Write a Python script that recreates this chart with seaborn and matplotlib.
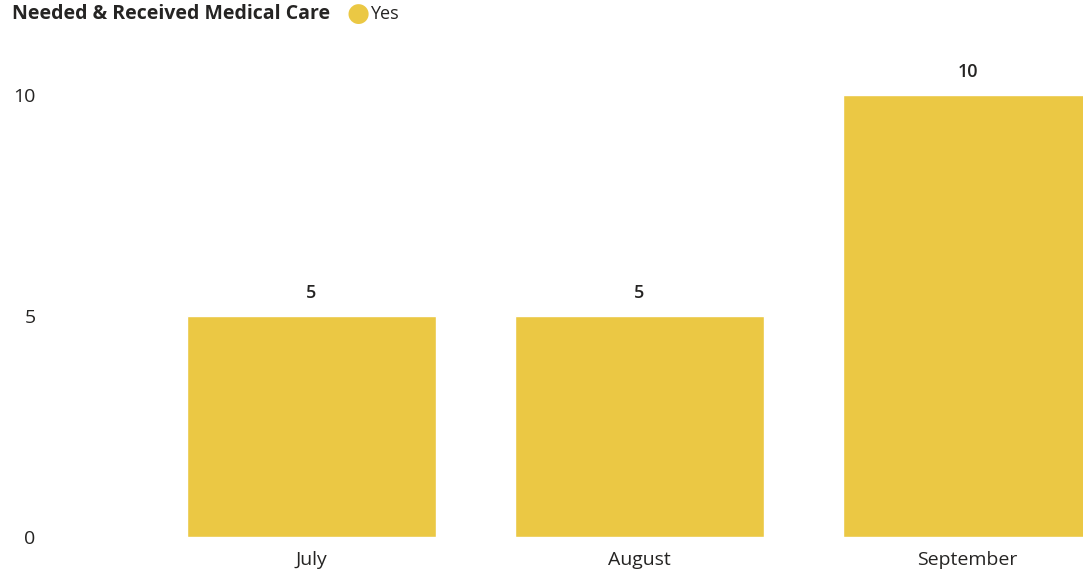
import matplotlib
matplotlib.use("Agg")
import matplotlib.pyplot as plt
import seaborn as sns
import pandas as pd

months = ["July", "August", "September"]
values = [5, 5, 10]
series_name = "Yes"
title = "Needed & Received Medical Care"
bar_color = "#EBC844"

sns.set_theme(style="white")
plt.rcParams['font.family'] = ['Open Sans', 'DejaVu Sans']

df = pd.DataFrame({"Month": months, "Count": values})

W, H = 1083, 577
fig = plt.figure(figsize=(W / 100, H / 100), dpi=100)
left_px, right_px, top_px, bottom_px = 55, 1083, 51, 537
ax = fig.add_axes([left_px / W, 1 - bottom_px / H, (right_px - left_px) / W, (bottom_px - top_px) / H])

sns.barplot(data=df, x="Month", y="Count", color=bar_color, saturation=1, width=0.76, ax=ax)

unit = 328
ax.set_xlim(-(311.5 - left_px) / unit, (right_px - 311.5) / unit)
ax.set_ylim(0, (bottom_px - top_px) / 44.2)
ax.set_yticks([0, 5, 10])
ax.set_xlabel("")
ax.set_ylabel("")
for s in ax.spines.values():
    s.set_visible(False)
ax.tick_params(axis="both", length=0, labelsize=14, colors="#252423")
ax.tick_params(axis="y", pad=14)
ax.tick_params(axis="x", pad=10)

for cont in ax.containers:
    ax.bar_label(cont, labels=[str(v) for v in values], padding=10, fontsize=13,
                 color="#252423", fontweight="semibold")

fig.text(12 / W, 1 - 14 / H, title, fontsize=14, fontweight="bold", color="#252423",
         va="center", ha="left")
fig.text(358 / W, 1 - 14 / H, "●", fontsize=19, color=bar_color, va="center", ha="center")
fig.text(370 / W, 1 - 14 / H, series_name, fontsize=13, color="#252423", va="center", ha="left")

fig.savefig("out.png", dpi=100)
